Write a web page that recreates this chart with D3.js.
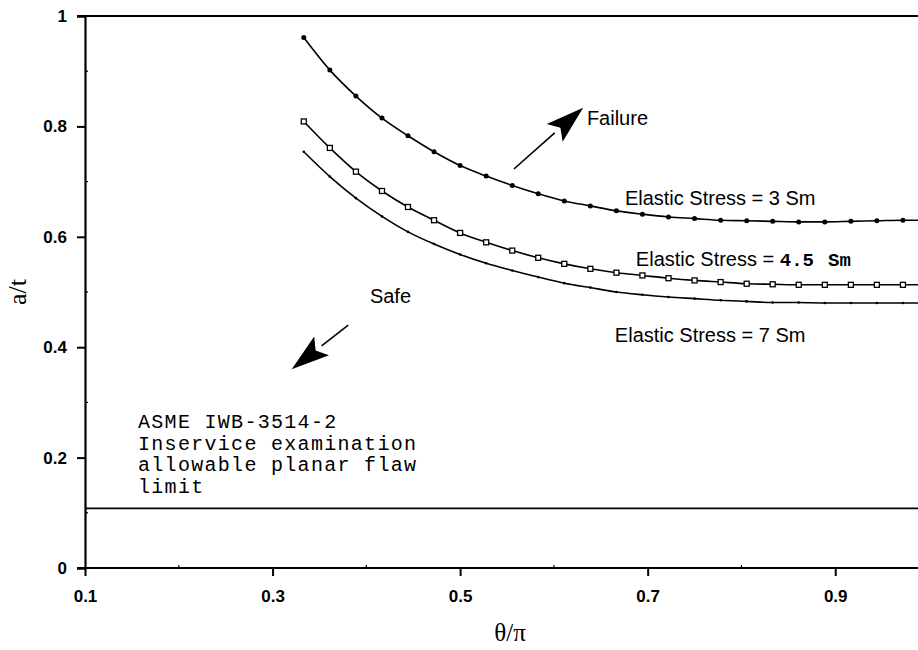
<!DOCTYPE html>
<html>
<head>
<meta charset="utf-8">
<script src="https://cdn.jsdelivr.net/npm/d3@7/dist/d3.min.js"></script>
<style>
  html, body { margin: 0; padding: 0; background: #fff; }
  svg { display: block; }
</style>
</head>
<body>
<svg id="chart" width="918" height="650"></svg>
<script>
// Crack angle ratio θ/π (5° steps from 60° to 180°)
const thetaOverPi = [0.3333, 0.3611, 0.3889, 0.4167, 0.4444, 0.4722, 0.5, 0.5278, 0.5556,
  0.5833, 0.6111, 0.6389, 0.6667, 0.6944, 0.7222, 0.75, 0.7778, 0.8056, 0.8333, 0.8611,
  0.8889, 0.9167, 0.9444, 0.9722, 1.0];

// Critical flaw depth ratio a/t for each elastic stress level
const stress3Sm = [0.961, 0.902, 0.855, 0.815, 0.783, 0.754, 0.729, 0.710, 0.693, 0.678,
  0.665, 0.656, 0.647, 0.641, 0.636, 0.633, 0.630, 0.629, 0.628, 0.627, 0.627, 0.628,
  0.629, 0.630, 0.630];
const stress45Sm = [0.809, 0.761, 0.718, 0.683, 0.654, 0.630, 0.607, 0.590, 0.575, 0.562,
  0.551, 0.542, 0.535, 0.530, 0.525, 0.521, 0.518, 0.515, 0.514, 0.513, 0.513, 0.513,
  0.513, 0.513, 0.513];
const stress7Sm = [0.754, 0.709, 0.670, 0.637, 0.609, 0.587, 0.568, 0.552, 0.539, 0.527,
  0.516, 0.508, 0.500, 0.495, 0.491, 0.488, 0.485, 0.483, 0.481, 0.481, 0.480, 0.480,
  0.480, 0.480, 0.480];

// ASME IWB-3514-2 allowable planar flaw limit
const asmeLimit = 0.108;

const xTicks = [0.1, 0.3, 0.5, 0.7, 0.9];
const xTickLabels = ["0.1", "0.3", "0.5", "0.7", "0.9"];
const yTicks = [0, 0.2, 0.4, 0.6, 0.8, 1];
const yTickLabels = ["0", "0.2", "0.4", "0.6", "0.8", "1"];
const xMinorTicks = [0.2, 0.4, 0.6, 0.8];
const yMinorTicks = [0.1, 0.3, 0.5, 0.7, 0.9];

const asmeText = ["ASME IWB-3514-2", "Inservice examination", "allowable planar flaw", "limit"];

const svg = d3.select("#chart");
const W = 918, H = 650;

const x = d3.scaleLinear().domain([0.1, 1.0]).range([85, 929]);
const y = d3.scaleLinear().domain([0, 1]).range([568, 16]);

const sans = "'Liberation Sans', Arial, Helvetica, sans-serif";
const mono = "'Liberation Mono', 'Courier New', monospace";
const serif = "'Liberation Serif', 'Times New Roman', serif";

// Axes
const xAxis = d3.axisBottom(x).tickValues(xTicks)
  .tickFormat((d, i) => xTickLabels[i]).tickSizeOuter(0).tickSize(8).tickPadding(14);
const yAxis = d3.axisLeft(y).tickValues(yTicks)
  .tickFormat((d, i) => yTickLabels[i]).tickSizeOuter(0).tickSize(8).tickPadding(10);

const gx = svg.append("g").attr("transform", `translate(0,${y(0)})`).call(xAxis);
const gy = svg.append("g").attr("transform", `translate(${x(0.1)},0)`).call(yAxis);

[gx, gy].forEach(g => {
  g.select(".domain").attr("stroke", "#000").attr("stroke-width", 2.2);
  g.selectAll(".tick line").attr("stroke", "#000").attr("stroke-width", 2);
  g.selectAll(".tick text").attr("fill", "#000")
    .style("font-family", sans).style("font-size", "17px").style("font-weight", "bold");
});
// horizontal axis line reaches the left tick stub
gx.select(".domain").attr("d", `M${x(0.1) - 8},0H${W + 20}`);

// Small inward minor ticks
svg.append("g").selectAll("line").data(xMinorTicks).join("line")
  .attr("x1", d => x(d)).attr("x2", d => x(d))
  .attr("y1", y(0)).attr("y2", y(0) - 3)
  .attr("stroke", "#000").attr("stroke-width", 1.2);
svg.append("g").selectAll("line").data(yMinorTicks).join("line")
  .attr("x1", x(0.1)).attr("x2", x(0.1) + 3)
  .attr("y1", d => y(d)).attr("y2", d => y(d))
  .attr("stroke", "#000").attr("stroke-width", 1.2);

// Top frame line
svg.append("line")
  .attr("x1", x(0.1) - 8).attr("x2", W + 20)
  .attr("y1", y(1)).attr("y2", y(1))
  .attr("stroke", "#000").attr("stroke-width", 2.2);

// ASME limit line
svg.append("line")
  .attr("x1", x(0.1)).attr("x2", W + 20)
  .attr("y1", y(asmeLimit)).attr("y2", y(asmeLimit))
  .attr("stroke", "#000").attr("stroke-width", 1.6);

// Axis titles
svg.append("text")
  .attr("x", x(0.5) + 50).attr("y", 641)
  .attr("text-anchor", "middle")
  .style("font-family", serif).style("font-size", "25px")
  .text("θ/π");
svg.append("text")
  .attr("transform", `translate(26,${y(0.5)}) rotate(-90)`)
  .attr("text-anchor", "middle")
  .style("font-family", serif).style("font-size", "26px")
  .text("a/t");

// Curves
const line = d3.line()
  .x((d, i) => x(thetaOverPi[i]))
  .y(d => y(d))
  .curve(d3.curveMonotoneX);

const series = [
  { name: "3 Sm", values: stress3Sm, marker: "dot" },
  { name: "4.5 Sm", values: stress45Sm, marker: "square" },
  { name: "7 Sm", values: stress7Sm, marker: "tick" }
];

series.forEach(s => {
  svg.append("path")
    .datum(s.values)
    .attr("fill", "none")
    .attr("stroke", "#000")
    .attr("stroke-width", 1.6)
    .attr("d", line);

  const g = svg.append("g");
  if (s.marker === "dot") {
    g.selectAll("circle").data(s.values).join("circle")
      .attr("cx", (d, i) => x(thetaOverPi[i]))
      .attr("cy", d => y(d))
      .attr("r", 2.5)
      .attr("fill", "#000");
  } else if (s.marker === "square") {
    g.selectAll("rect").data(s.values).join("rect")
      .attr("x", (d, i) => x(thetaOverPi[i]) - 2.5)
      .attr("y", d => y(d) - 2.5)
      .attr("width", 5).attr("height", 5)
      .attr("fill", "#fff").attr("stroke", "#000").attr("stroke-width", 1.3);
  } else {
    g.selectAll("circle").data(s.values).join("circle")
      .attr("cx", (d, i) => x(thetaOverPi[i]))
      .attr("cy", d => y(d))
      .attr("r", 1.3)
      .attr("fill", "#000");
  }
});

// Direction arrows
function arrow(x0, y0, x1, y1) {
  const px0 = x(x0), py0 = y(y0), px1 = x(x1), py1 = y(y1);
  const ang = Math.atan2(py1 - py0, px1 - px0);
  const headLen = 38, headHalf = 12;
  const bx = px1 - headLen * Math.cos(ang), by = py1 - headLen * Math.sin(ang);
  svg.append("line")
    .attr("x1", px0).attr("y1", py0).attr("x2", bx).attr("y2", by)
    .attr("stroke", "#000").attr("stroke-width", 1.6);
  const nx = -Math.sin(ang), ny = Math.cos(ang);
  // slightly concave arrowhead
  const mx = px1 - headLen * 0.8 * Math.cos(ang), my = py1 - headLen * 0.8 * Math.sin(ang);
  svg.append("path")
    .attr("d", `M${px1},${py1}L${bx + nx * headHalf},${by + ny * headHalf}L${mx},${my}L${bx - nx * headHalf},${by - ny * headHalf}Z`)
    .attr("fill", "#000");
}
arrow(0.5574, 0.7228, 0.6312, 0.8339);
arrow(0.3807, 0.4402, 0.3204, 0.360);

// Annotations
function label(xv, yv, txt, size) {
  return svg.append("text")
    .attr("x", x(xv)).attr("y", y(yv))
    .style("font-family", sans).style("font-size", (size || 20) + "px")
    .text(txt);
}
label(0.6352, 0.8025, "Failure");
label(0.4038, 0.480, "Safe");
label(0.6757, 0.6576, "Elastic Stress = 3 Sm");
const t45 = label(0.6874, 0.547, "Elastic Stress = ");
t45.append("tspan").style("font-family", mono).style("font-weight", "bold")
  .style("font-size", "19px").text("4.5");
t45.append("tspan").attr("dx", 14).style("font-family", mono).style("font-weight", "bold")
  .style("font-size", "19px").text("Sm");
label(0.665, 0.4094, "Elastic Stress = 7 Sm");

// Code limit note
const note = svg.append("text")
  .style("font-family", mono).style("font-size", "20px")
  .style("letter-spacing", "1.3px");
asmeText.forEach((t, i) => {
  note.append("tspan")
    .attr("x", x(0.1565))
    .attr("y", y(0.2536) + i * 21.7)
    .text(t);
});
</script>
</body>
</html>
